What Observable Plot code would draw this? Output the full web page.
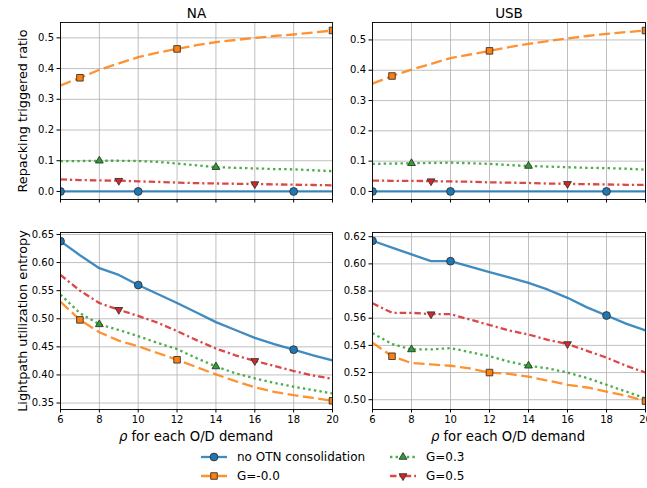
<!DOCTYPE html>
<html><head><meta charset="utf-8">
<script src="https://cdn.jsdelivr.net/npm/d3@7"></script>
<script src="https://cdn.jsdelivr.net/npm/@observablehq/plot@0.6"></script>
<style>
body{margin:0;background:#fff;font-family:"DejaVu Sans",sans-serif;}
#fig{position:relative;width:647px;height:488px;overflow:hidden;background:#fff;}
#fig svg{position:absolute;overflow:visible;}
.xl{position:absolute;font-size:13.2px;color:#000;white-space:nowrap;transform:translateX(-50%);}
.lg{position:absolute;font-size:12px;color:#000;white-space:nowrap;display:flex;align-items:center;}
.lg svg{position:static !important;margin-right:10px;}
</style></head><body><div id="fig"></div>
<script>
// ---------------- data ----------------
const xs = [6,7,8,9,10,11,12,13,14,15,16,17,18,19,20];
const xTicks = [6,8,10,12,14,16,18,20];
const titles = ["NA", "USB"];
const seriesNames = ["no OTN consolidation", "G=-0.0", "G=0.3", "G=0.5"];

// Repacking triggered ratio — NA
const repNA_noOTN = [0,0,0,0,0,0,0,0,0,0,0,0,0,0,0];
const repNA_g00   = [0.345,0.370,0.396,0.417,0.437,0.452,0.464,0.476,0.486,0.493,0.500,0.506,0.511,0.517,0.524];
const repNA_g03   = [0.099,0.099,0.100,0.100,0.099,0.096,0.091,0.085,0.079,0.077,0.075,0.073,0.072,0.069,0.066];
const repNA_g05   = [0.039,0.037,0.036,0.035,0.033,0.031,0.029,0.027,0.026,0.025,0.024,0.023,0.022,0.021,0.020];
// Repacking triggered ratio — USB
const repUSB_noOTN = [0,0,0,0,0,0,0,0,0,0,0,0,0,0,0];
const repUSB_g00   = [0.356,0.381,0.402,0.421,0.440,0.452,0.464,0.476,0.487,0.496,0.505,0.513,0.520,0.526,0.531];
const repUSB_g03   = [0.091,0.092,0.093,0.094,0.095,0.093,0.091,0.087,0.084,0.082,0.080,0.078,0.077,0.075,0.072];
const repUSB_g05   = [0.036,0.035,0.035,0.034,0.033,0.032,0.030,0.029,0.028,0.026,0.025,0.024,0.023,0.022,0.022];
// Lightpath utilization entropy — NA
const entNA_noOTN = [0.638,0.613,0.590,0.578,0.560,0.544,0.528,0.511,0.494,0.480,0.466,0.455,0.445,0.435,0.426];
const entNA_g00   = [0.530,0.498,0.476,0.461,0.451,0.439,0.427,0.414,0.401,0.389,0.378,0.370,0.364,0.359,0.354];
const entNA_g03   = [0.543,0.510,0.490,0.480,0.469,0.457,0.446,0.430,0.415,0.403,0.394,0.386,0.379,0.373,0.367];
const entNA_g05   = [0.578,0.550,0.528,0.516,0.505,0.493,0.478,0.462,0.447,0.435,0.425,0.416,0.407,0.399,0.393];
// Lightpath utilization entropy — USB
const entUSB_noOTN = [0.617,0.612,0.607,0.602,0.602,0.598,0.594,0.590,0.586,0.581,0.575,0.568,0.562,0.556,0.551];
const entUSB_g00   = [0.542,0.532,0.527,0.526,0.525,0.523,0.520,0.519,0.517,0.514,0.511,0.509,0.506,0.503,0.499];
const entUSB_g03   = [0.549,0.541,0.537,0.537,0.538,0.535,0.532,0.528,0.525,0.523,0.520,0.516,0.511,0.506,0.501];
const entUSB_g05   = [0.571,0.564,0.564,0.563,0.563,0.559,0.555,0.551,0.548,0.544,0.541,0.536,0.531,0.525,0.520];

// marker positions (x) per series
const markNoOTN = [6,10,18];
const markG00 = [7,12,20];
const markG03 = [8,14];
const markG05 = [9,16];

const repTicks = [0,0.1,0.2,0.3,0.4,0.5];
const entNATicks = [0.35,0.40,0.45,0.50,0.55,0.60,0.65];
const entUSBTicks = [0.50,0.52,0.54,0.56,0.58,0.60,0.62];

// ---------------- styles ----------------
const sqrt3 = Math.sqrt(3);
const triDown = {draw(ctx, size){ const y = -Math.sqrt(size/(sqrt3*3)); ctx.moveTo(0,-y*2); ctx.lineTo(-sqrt3*y, y); ctx.lineTo(sqrt3*y, y); ctx.closePath(); }};
const styles = [
  {color:"#1f77b4", dash:null,        symbol:"circle",   r:3.9, marks:markNoOTN},
  {color:"#ff7f0e", dash:"11,4.5",    symbol:"square",   r:3.7, marks:markG00},
  {color:"#2ca02c", dash:"2.4,3.2",   symbol:"triangle", r:2.9, marks:markG03},
  {color:"#d62728", dash:"6.5,3,2.2,3", symbol:triDown,  r:2.9, marks:markG05}
];

function panel({ys, yDomain, yTicks, yFmt, title, ylabel, showX, left, top, w, h, mL, mR, mT, mB}) {
  const marks = [
    Plot.gridX(xTicks, {stroke:"#b0b0b0", strokeOpacity:1, strokeWidth:0.8}),
    Plot.gridY(yTicks, {stroke:"#b0b0b0", strokeOpacity:1, strokeWidth:0.8})
  ];
  ys.forEach((arr, k) => {
    const st = styles[k];
    const data = xs.map((x,i) => ({x, y: arr[i]}));
    marks.push(Plot.line(data, {x:"x", y:"y", stroke:st.color, strokeWidth:2.3, strokeOpacity:0.85,
      strokeDasharray: st.dash || undefined, strokeLinecap:"butt", clip:true}));
  });
  ys.forEach((arr, k) => {
    const st = styles[k];
    const data = st.marks.map(x => ({x, y: arr[xs.indexOf(x)]}));
    marks.push(Plot.dot(data, {x:"x", y:"y", symbol: st.symbol, r: st.r, fill: st.color, stroke:"#333", strokeWidth:0.9, clip:true}));
  });
  marks.push(Plot.frame({stroke:"#000", strokeWidth:0.9}));
  marks.push(Plot.axisX(xTicks, {tickSize:3.5, tickPadding:3, fontSize:10, label:null,
    tickFormat: showX ? (d=>String(d)) : (()=>"")}));
  marks.push(Plot.axisY(yTicks, {tickSize:3.5, tickPadding:3, fontSize:10, label:null, tickFormat: d3.format(yFmt)}));
  if (title) marks.push(Plot.text([title], {text:d=>d, frameAnchor:"top", lineAnchor:"bottom", dy:-5, fontSize:13.5, fill:"#000"}));
  if (ylabel) marks.push(Plot.text([ylabel], {text:d=>d, frameAnchor:"left", textAnchor:"middle", lineAnchor:"middle", rotate:-90, dx:-38, fontSize:12.8, fill:"#000"}));
  const svg = Plot.plot({
    width:w, height:h, marginLeft:mL, marginRight:mR, marginTop:mT, marginBottom:mB,
    style:{fontFamily:"DejaVu Sans, sans-serif", color:"#000", background:"transparent", overflow:"visible"},
    x:{domain:[6,20]},
    y:{domain:yDomain},
    marks
  });
  svg.style.left = left + "px";
  svg.style.top = top + "px";
  document.getElementById("fig").appendChild(svg);
}

// Top row: frames y 22–199 ; bottom row: y 232–409
// Left column: x 60–332 ; right column: x 372–645
panel({ys:[repNA_noOTN,repNA_g00,repNA_g03,repNA_g05], yDomain:[-0.0262,0.550], yTicks:repTicks, yFmt:".1f",
  title:titles[0], ylabel:"Repacking triggered ratio", showX:false, left:0, top:0, w:340, h:215, mL:60, mR:8, mT:22, mB:16});
panel({ys:[repUSB_noOTN,repUSB_g00,repUSB_g03,repUSB_g05], yDomain:[-0.0266,0.5576], yTicks:repTicks, yFmt:".1f",
  title:titles[1], ylabel:null, showX:false, left:330, top:0, w:317, h:215, mL:42, mR:2, mT:22, mB:16});
panel({ys:[entNA_noOTN,entNA_g00,entNA_g03,entNA_g05], yDomain:[0.3385,0.6535], yTicks:entNATicks, yFmt:".2f",
  title:null, ylabel:"Lightpath utilization entropy", showX:true, left:0, top:215, w:340, h:240, mL:60, mR:8, mT:17, mB:46});
panel({ys:[entUSB_noOTN,entUSB_g00,entUSB_g03,entUSB_g05], yDomain:[0.4928,0.6231], yTicks:entUSBTicks, yFmt:".2f",
  title:null, ylabel:null, showX:true, left:330, top:215, w:317, h:240, mL:42, mR:2, mT:17, mB:46});

// x labels
const fig = document.getElementById("fig");
[[196,429],[508,429]].forEach(([cx,ty]) => {
  const d = document.createElement("div");
  d.className = "xl";
  d.style.left = cx + "px"; d.style.top = ty + "px";
  d.innerHTML = '<i>ρ</i> for each O/D demand';
  fig.appendChild(d);
});

// legend (column-major: col1 = series 0,1 ; col2 = series 2,3)
const legendPos = [[201,448],[201,467],[390,448],[390,467]];
seriesNames.forEach((name, k) => {
  const st = styles[k];
  const [lx, ly] = legendPos[k];
  const d = document.createElement("div");
  d.className = "lg";
  d.style.left = lx + "px"; d.style.top = ly + "px"; d.style.height = "18px";
  const sym = d3.symbol(typeof st.symbol === "string" ? ({circle:d3.symbolCircle, square:d3.symbolSquare, triangle:d3.symbolTriangle})[st.symbol] : st.symbol, Math.PI*st.r*st.r)();
  d.innerHTML = `<svg width="26" height="12" viewBox="0 0 26 12"><line x1="0" x2="26" y1="6" y2="6" stroke="${st.color}" stroke-width="2.3" stroke-opacity="0.85" ${st.dash?`stroke-dasharray="${st.dash}"`:""}/><path transform="translate(13,6)" d="${sym}" fill="${st.color}" stroke="#333" stroke-width="0.9"/></svg><span>${name}</span>`;
  fig.appendChild(d);
});
</script>
</body></html>
